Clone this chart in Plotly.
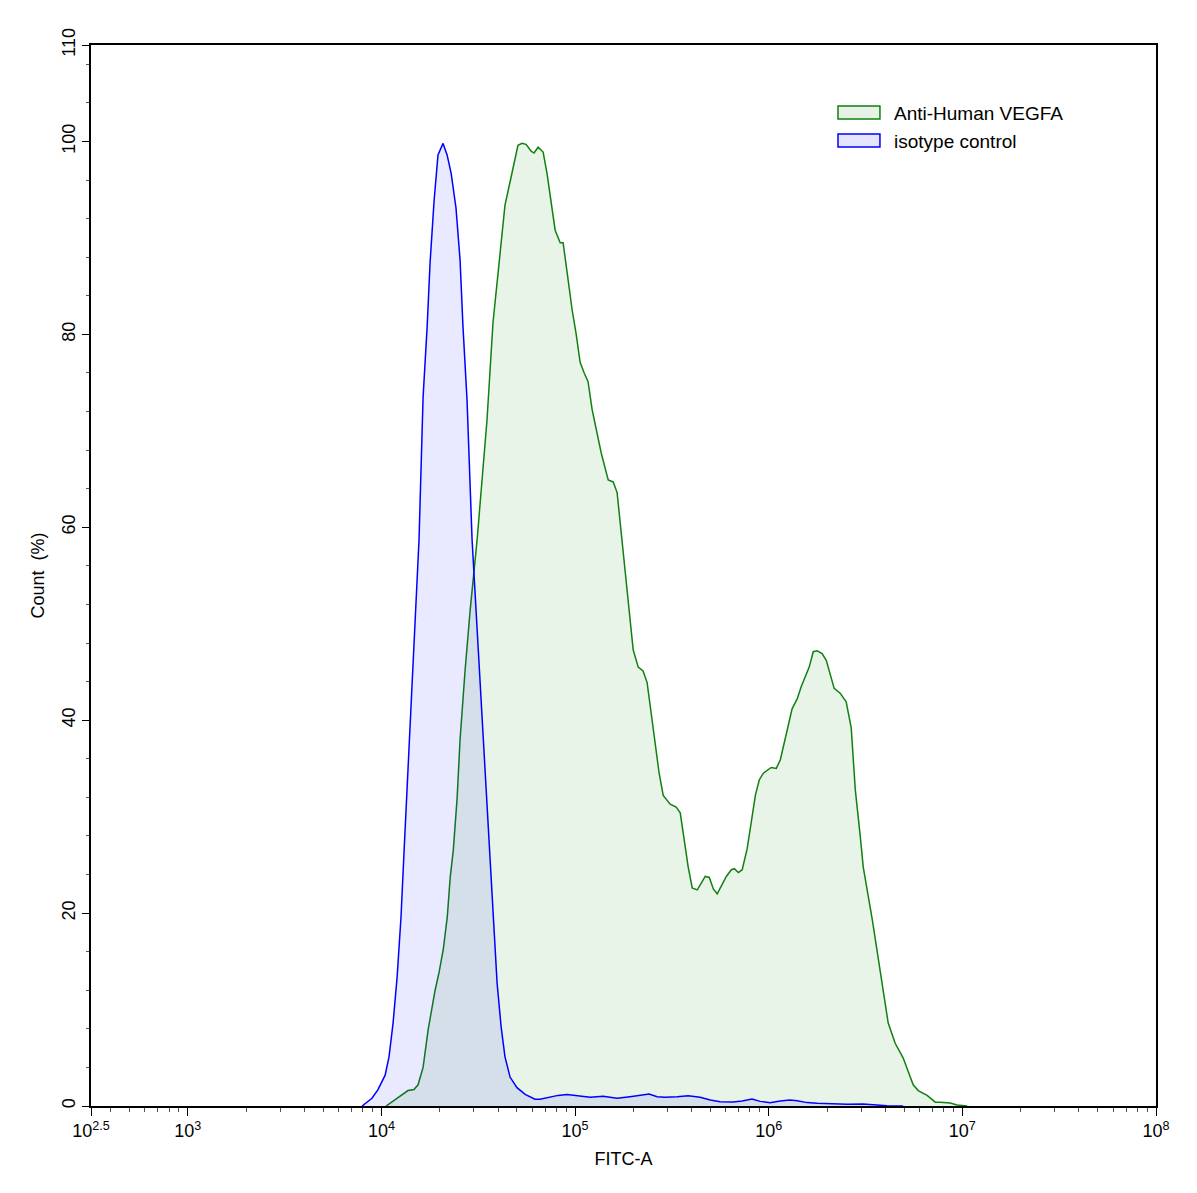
import numpy as np
import plotly.graph_objects as go

# Anti-Human VEGFA histogram (x read as log10 of FITC-A, y in % of max)
vegfa_log = [4.024, 4.060, 4.106, 4.137, 4.168, 4.189, 4.215, 4.241, 4.277, 4.298,
             4.319, 4.340, 4.355, 4.371, 4.391, 4.406, 4.432, 4.458, 4.494, 4.545,
             4.576, 4.602, 4.638, 4.664, 4.705, 4.726, 4.747, 4.773, 4.788, 4.809,
             4.835, 4.855, 4.876, 4.897, 4.923, 4.938, 4.959, 4.985, 5.005, 5.026,
             5.047, 5.067, 5.088, 5.114, 5.135, 5.171, 5.197, 5.217, 5.243, 5.300,
             5.326, 5.351, 5.372, 5.434, 5.455, 5.491, 5.522, 5.543, 5.584, 5.605,
             5.631, 5.672, 5.693, 5.714, 5.734, 5.781, 5.807, 5.822, 5.843, 5.863,
             5.889, 5.931, 5.951, 5.972, 6.013, 6.039, 6.060, 6.075, 6.121, 6.147,
             6.168, 6.209, 6.230, 6.250, 6.276, 6.297, 6.317, 6.338, 6.369, 6.400,
             6.426, 6.447, 6.473, 6.488, 6.535, 6.576, 6.617, 6.653, 6.694, 6.746,
             6.772, 6.818, 6.860, 6.886, 6.937, 6.973, 7.025]
vegfa_count = [0, 0.5, 1.2, 1.6, 1.7, 2.2, 4.0, 7.9, 12.0, 13.9,
               16.2, 19.6, 23.7, 26.5, 32.0, 38.0, 45.2, 51.4, 58.7, 71.1,
               81.2, 86.4, 93.4, 95.8, 99.6, 99.8, 99.7, 99.0, 98.8, 99.4,
               98.9, 96.7, 93.9, 90.8, 89.5, 89.5, 86.4, 82.5, 80.1, 77.1,
               76.0, 75.1, 72.2, 69.6, 67.7, 64.9, 64.7, 63.6, 58.7, 47.3,
               45.5, 45.1, 43.9, 34.5, 32.2, 31.3, 31.0, 30.4, 24.8, 22.6,
               22.4, 23.8, 23.7, 22.5, 22.0, 23.8, 24.5, 24.6, 24.2, 24.5,
               26.7, 32.2, 33.8, 34.5, 35.1, 35.0, 35.9, 37.2, 41.2, 42.2,
               43.5, 45.5, 47.1, 47.2, 46.9, 46.2, 44.7, 43.3, 42.8, 41.9,
               39.2, 32.8, 27.9, 24.8, 19.3, 13.8, 8.6, 6.5, 5.0, 2.2,
               1.6, 1.1, 0.4, 0.4, 0.3, 0.1, 0]

# isotype control histogram
iso_log = [3.900, 3.951, 3.982, 4.019, 4.039, 4.060, 4.081, 4.101, 4.117, 4.137,
           4.158, 4.179, 4.194, 4.215, 4.236, 4.251, 4.272, 4.292, 4.318, 4.339,
           4.360, 4.385, 4.406, 4.421, 4.442, 4.468, 4.489, 4.510, 4.530, 4.556,
           4.576, 4.597, 4.618, 4.638, 4.664, 4.700, 4.742, 4.793, 4.819, 4.871,
           4.912, 4.959, 5.026, 5.078, 5.145, 5.217, 5.284, 5.336, 5.382, 5.424,
           5.465, 5.527, 5.584, 5.646, 5.698, 5.749, 5.816, 5.863, 5.914, 5.956,
           6.007, 6.059, 6.110, 6.147, 6.198, 6.250, 6.317, 6.405, 6.487, 6.560,
           6.611, 6.694]
iso_count = [0, 0.8, 1.7, 3.2, 5.1, 8.6, 13.4, 19.6, 26.5, 35.2,
             43.8, 52.3, 58.7, 73.5, 80.8, 87.4, 93.9, 98.6, 99.8, 98.6,
             96.7, 93.1, 87.7, 80.8, 73.2, 58.7, 51.1, 43.5, 36.0, 26.5,
             19.6, 12.8, 8.2, 5.1, 3.0, 1.9, 1.2, 0.7, 0.7, 0.9,
             1.1, 1.2, 1.0, 0.9, 1.0, 0.8, 0.97, 1.1, 1.25, 0.97,
             0.9, 0.97, 1.07, 0.9, 0.62, 0.45, 0.41, 0.52, 0.73, 0.48,
             0.35, 0.52, 0.62, 0.55, 0.35, 0.28, 0.24, 0.17, 0.2, 0.1,
             0.03, 0]

x_tick_exp = [2.5, 3, 4, 5, 6, 7, 8]
x_tick_text = ["10<sup>2.5</sup>", "10<sup>3</sup>", "10<sup>4</sup>", "10<sup>5</sup>",
               "10<sup>6</sup>", "10<sup>7</sup>", "10<sup>8</sup>"]
y_tick_vals = [0, 20, 40, 60, 80, 100, 110]

legend_names = ["Anti-Human VEGFA", "isotype control"]
line_colors = ["#108010", "#0000ff"]
fill_colors = ["rgba(16,128,16,0.09)", "rgba(0,0,255,0.085)"]
legend_fills = ["rgba(16,128,16,0.1)", "rgba(0,0,255,0.1)"]

font_name = "Liberation Sans, Arial, sans-serif"

fig = go.Figure()

# green histogram first, blue drawn over it
fig.add_trace(go.Scatter(x=10 ** np.array(vegfa_log), y=vegfa_count, mode='lines',
                         line=dict(color=line_colors[0], width=1.5),
                         fill='tozeroy', fillcolor=fill_colors[0],
                         name=legend_names[0], showlegend=False))
fig.add_trace(go.Scatter(x=10 ** np.array(iso_log), y=iso_count, mode='lines',
                         line=dict(color=line_colors[1], width=1.5),
                         fill='tozeroy', fillcolor=fill_colors[1],
                         name=legend_names[1], showlegend=False))

# minor log ticks 2..9 in each decade
minor_vals = [m * 10 ** k for k in range(2, 8) for m in range(2, 10) if m * 10 ** k > 10 ** 2.5]

fig.update_xaxes(type='log', range=[2.5, 8],
                 tickvals=[10 ** e for e in x_tick_exp], ticktext=x_tick_text,
                 ticks='outside', ticklen=8, tickwidth=1.3, tickcolor='black',
                 minor=dict(tickvals=minor_vals, ticks='outside', ticklen=4, tickcolor='#555', tickwidth=1),
                 showline=True, linecolor='black', linewidth=1.5, mirror=True,
                 showgrid=False, zeroline=False,
                 tickfont=dict(family=font_name, size=18, color='black'),
                 title=dict(text="FITC-A", font=dict(family=font_name, size=18, color='black'), standoff=12))

fig.update_yaxes(range=[0, 110], tickvals=y_tick_vals, ticktext=[str(v) for v in y_tick_vals],
                 ticks='outside', ticklen=7, tickwidth=1.3, tickcolor='black',
                 minor=dict(dtick=4, tick0=0, ticks='outside', ticklen=3, tickcolor='#555', tickwidth=1),
                 tickangle=-90,
                 showline=True, linecolor='black', linewidth=1.5, mirror=True,
                 showgrid=False, zeroline=False,
                 tickfont=dict(family=font_name, size=18, color='black'),
                 title=dict(text="Count\u00a0 (%)", font=dict(family=font_name, size=18, color='black'), standoff=10))

# legend drawn as boxes + labels in the top right
box_y = [(0.9303, 0.9425), (0.9039, 0.9161)]
text_y = [0.9359, 0.9095]
for i in range(2):
    fig.add_shape(type='rect', xref='paper', yref='paper',
                  x0=0.7014, x1=0.7408, y0=box_y[i][0], y1=box_y[i][1],
                  line=dict(color=line_colors[i], width=1.5), fillcolor=legend_fills[i])
    fig.add_annotation(xref='paper', yref='paper', x=0.7521, y=text_y[i], text=legend_names[i],
                       showarrow=False, xanchor='left', yanchor='middle',
                       font=dict(family=font_name, size=19, color='black'))

# page body has an 8px margin, so the figure is shrunk by that much
fig.update_layout(width=1189, height=1185,
                  margin=dict(l=83, r=41, t=37, b=87),
                  plot_bgcolor='white', paper_bgcolor='white',
                  showlegend=False, font=dict(family=font_name))

fig.write_html("out.html")
